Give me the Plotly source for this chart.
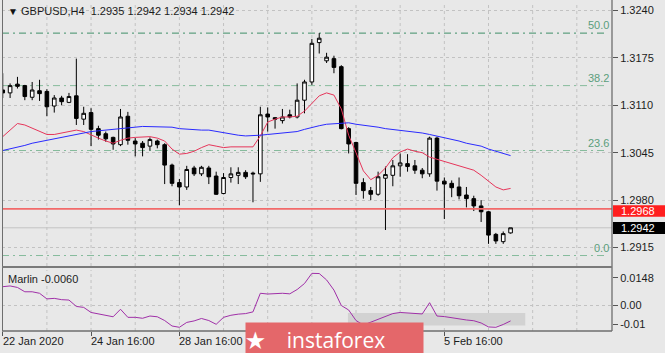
import plotly.graph_objects as go

# ---------------- data ----------------
bar_index = list(range(70))
date_labels = {0: "22 Jan 2020", 12: "24 Jan 16:00", 24: "28 Jan 16:00", 60: "5 Feb 16:00"}

open_ = [1.3131, 1.3127, 1.3139, 1.3137, 1.3121, 1.3130, 1.3129, 1.3109, 1.3120, 1.3114,
         1.3123, 1.3091, 1.3100, 1.3078, 1.3071, 1.3066, 1.3056, 1.3095, 1.3061, 1.3058,
         1.3054, 1.3061, 1.3056, 1.3028, 1.3004, 1.2998, 1.3024, 1.3016, 1.3024, 1.3013,
         1.2989, 1.3011, 1.3014, 1.3018, 1.3017, 1.3016, 1.3098, 1.3093, 1.3089, 1.3097,
         1.3094, 1.3117, 1.3142, 1.3196, 1.3171, 1.3174, 1.3163, 1.3078, 1.3059, 1.3004,
         1.2993, 1.2988, 1.3010, 1.3014, 1.3027, 1.3030, 1.3027, 1.3021, 1.3016, 1.3065,
         1.3006, 1.3003, 1.2998, 1.2987, 1.2982, 1.2972, 1.2964, 1.2933, 1.2923, 1.2935]
high = [1.3154, 1.3140, 1.3149, 1.3138, 1.3142, 1.3145, 1.3132, 1.3124, 1.3123, 1.3127,
        1.3174, 1.3108, 1.3106, 1.3082, 1.3074, 1.3067, 1.3105, 1.3101, 1.3065, 1.3061,
        1.3066, 1.3063, 1.3058, 1.3030, 1.3009, 1.3027, 1.3027, 1.3027, 1.3027, 1.3019,
        1.3017, 1.3025, 1.3025, 1.3021, 1.3019, 1.3108, 1.3107, 1.3094, 1.3105, 1.3104,
        1.3140, 1.3145, 1.3201, 1.3209, 1.3182, 1.3178, 1.3165, 1.3080, 1.3060, 1.3010,
        1.2998, 1.3019, 1.3026, 1.3035, 1.3044, 1.3043, 1.3035, 1.3024, 1.3067, 1.3067,
        1.3011, 1.3007, 1.3011, 1.2998, 1.2986, 1.2980, 1.2965, 1.2935, 1.2937, 1.2942]
low = [1.3120, 1.3120, 1.3133, 1.3117, 1.3117, 1.3116, 1.3095, 1.3100, 1.3110, 1.3113,
       1.3083, 1.3083, 1.3054, 1.3063, 1.3060, 1.3049, 1.3054, 1.3056, 1.3040, 1.3040,
       1.3048, 1.3051, 1.3002, 1.2999, 1.2973, 1.2994, 1.3013, 1.3013, 1.3002, 1.2987,
       1.2988, 1.3004, 1.3002, 1.3009, 1.2977, 1.3005, 1.3074, 1.3078, 1.3085, 1.3092,
       1.3092, 1.3099, 1.3138, 1.3181, 1.3168, 1.3154, 1.3077, 1.3044, 1.2987, 1.2982,
       1.2980, 1.2986, 1.2939, 1.2999, 1.3012, 1.3019, 1.3016, 1.3010, 1.3012, 1.2993,
       1.2954, 1.2984, 1.2981, 1.2970, 1.2965, 1.2950, 1.2920, 1.2920, 1.2920, 1.2934]
close = [1.3127, 1.3137, 1.3136, 1.3122, 1.3131, 1.3126, 1.3108, 1.3120, 1.3115, 1.3122,
         1.3092, 1.3099, 1.3077, 1.3069, 1.3064, 1.3057, 1.3094, 1.3062, 1.3057, 1.3052,
         1.3063, 1.3056, 1.3028, 1.3003, 1.2998, 1.3022, 1.3016, 1.3025, 1.3012, 1.2988,
         1.3011, 1.3016, 1.3018, 1.3012, 1.3016, 1.3097, 1.3094, 1.3091, 1.3094, 1.3094,
         1.3117, 1.3142, 1.3195, 1.3202, 1.3176, 1.3162, 1.3078, 1.3057, 1.3003, 1.2993,
         1.2988, 1.3012, 1.3015, 1.3027, 1.3031, 1.3026, 1.3021, 1.3016, 1.3065, 1.3006,
         1.3002, 1.2997, 1.2986, 1.2982, 1.2972, 1.2964, 1.2932, 1.2924, 1.2934, 1.2942]

ma_red = [1.3067, 1.3076, 1.3085, 1.3083, 1.3079, 1.3075, 1.3070, 1.3070, 1.3072, 1.3075,
          1.3076, 1.3074, 1.3069, 1.3065, 1.3061, 1.3058, 1.3062, 1.3065, 1.3066, 1.3067,
          1.3067, 1.3065, 1.3061, 1.3050, 1.3043, 1.3044, 1.3047, 1.3052, 1.3056, 1.3054,
          1.3052, 1.3053, 1.3053, 1.3053, 1.3053, 1.3068, 1.3087, 1.3091, 1.3094, 1.3094,
          1.3095, 1.3102, 1.3112, 1.3123, 1.3127, 1.3124, 1.3105, 1.3069, 1.3045, 1.3020,
          1.3008, 1.3014, 1.3024, 1.3038, 1.3046, 1.3050, 1.3047, 1.3045, 1.3039, 1.3036,
          1.3033, 1.3030, 1.3027, 1.3024, 1.3021, 1.3014, 1.3006, 1.2998, 1.2994, 1.2996]
ma_blue = [1.3048, 1.3050, 1.3053, 1.3055, 1.3058, 1.3060, 1.3062, 1.3065, 1.3067, 1.3069,
           1.3071, 1.3072, 1.3074, 1.3075, 1.3076, 1.3077, 1.3077, 1.3078, 1.3080, 1.3081,
           1.3081, 1.3080, 1.3080, 1.3080, 1.3078, 1.3077, 1.3076, 1.3076, 1.3076, 1.3074,
           1.3072, 1.3070, 1.3069, 1.3068, 1.3068, 1.3069, 1.3070, 1.3071, 1.3071, 1.3072,
           1.3074, 1.3077, 1.3080, 1.3082, 1.3084, 1.3085, 1.3086, 1.3086, 1.3084, 1.3083,
           1.3081, 1.3080, 1.3078, 1.3077, 1.3075, 1.3074, 1.3073, 1.3072, 1.3070, 1.3068,
           1.3066, 1.3064, 1.3061, 1.3058, 1.3056, 1.3054, 1.3050, 1.3047, 1.3044, 1.3041]
marlin = [0.0100, 0.0104, 0.0096, 0.0073, 0.0073, 0.0065, 0.0035, 0.0038, 0.0031, 0.0029,
          -0.0005, -0.0010, -0.0037, -0.0044, -0.0051, -0.0060, -0.0020, -0.0063, -0.0063, -0.0068,
          -0.0056, -0.0060, -0.0080, -0.0109, -0.0116, -0.0090, -0.0082, -0.0069, -0.0080, -0.0100,
          -0.0063, -0.0052, -0.0046, -0.0043, -0.0034, 0.0065, 0.0061, 0.0064, 0.0065, 0.0062,
          0.0085, 0.0117, 0.0171, 0.0170, 0.0136, 0.0082, 0.0000, -0.0024, -0.0080, -0.0104,
          -0.0088, -0.0072, -0.0056, -0.0043, -0.0037, -0.0040, -0.0043, -0.0045, 0.0015, -0.0056,
          -0.0059, -0.0066, -0.0073, -0.0077, -0.0081, -0.0093, -0.0114, -0.0116, -0.0101, -0.0082]

price_ticks = [1.3240, 1.3175, 1.3110, 1.3045, 1.2980, 1.2915]
price_tick_text = ["1.3240", "1.3175", "1.3110", "1.3045", "1.2980", "1.2915"]
ind_ticks = [0.0148, 0.0, -0.01]
ind_tick_text = ["0.0148", "0.00", "-0.01"]

fib_levels = [(0.0, 1.2904), (23.6, 1.3048), (38.2, 1.3137), (50.0, 1.3209)]
level_red = 1.2968
level_last = 1.2942
band_lo, band_hi = -0.0107, -0.0040
title_text = "GBPUSD,H4  1.2935 1.2942 1.2934 1.2942"

# ---------------- layout geometry ----------------
W, H = 665, 353
ML, MR, MT, MB = 2, 53, 0, 22
PW, PH = W - ML - MR, H - MT - MB


def fx(px):
    return (px - ML) / PW


def fy(py):
    return (H - MB - py) / PH


BAR_PX = 7.36
x_range = [-0.1, -0.1 + PW / BAR_PX]
y_range = [1.288963, 1.325166]
y2_range = [-0.013564, 0.018883]

FONT = "Liberation Sans, Arial, sans-serif"
TXT = "#1c1c1c"
BG = "#e8e8e8"

fig = go.Figure()

fig.add_trace(go.Candlestick(
    x=bar_index, open=open_, high=high, low=low, close=close,
    increasing=dict(fillcolor="#ffffff", line=dict(color="#000000", width=1)),
    decreasing=dict(fillcolor="#000000", line=dict(color="#000000", width=1)),
    whiskerwidth=0, showlegend=False, hoverinfo="skip", xaxis="x", yaxis="y"))

fig.add_trace(go.Scatter(x=bar_index, y=ma_red, mode="lines",
                         line=dict(color="#e6355a", width=1), showlegend=False,
                         hoverinfo="skip", xaxis="x", yaxis="y"))
fig.add_trace(go.Scatter(x=bar_index, y=ma_blue, mode="lines",
                         line=dict(color="#2a2aff", width=1), showlegend=False,
                         hoverinfo="skip", xaxis="x", yaxis="y"))
fig.add_trace(go.Scatter(x=bar_index, y=marlin, mode="lines",
                         line=dict(color="#a030a8", width=1), showlegend=False,
                         hoverinfo="skip", xaxis="x2", yaxis="y2"))

shapes = []
# vertical dashed grid (every 6 bars) across both panels
for g in range(6, 84, 6):
    for yr in ("y domain", "y2 domain"):
        shapes.append(dict(type="line", xref="x", yref=yr, x0=g, x1=g, y0=0, y1=1,
                           line=dict(color="#c2c2c2", width=1, dash="3px,3px"), layer="below"))
# indicator zero grid and band
shapes.append(dict(type="line", xref="x2 domain", yref="y2", x0=0, x1=1, y0=0, y1=0,
                   line=dict(color="#c2c2c2", width=1, dash="3px,3px"), layer="below"))
shapes.append(dict(type="rect", xref="x2", yref="y2", x0=46.9, x1=71, y0=band_lo, y1=band_hi,
                   fillcolor="#d2d2d2", line=dict(width=0), layer="below"))
# fibonacci levels
for pct, lv in fib_levels:
    col = "#3f8f68" if pct == 50.0 else "#86bb9c"
    shapes.append(dict(type="line", xref="x domain", yref="y", x0=0, x1=fx(607), y0=lv, y1=lv,
                       line=dict(color=col, width=1, dash="7px,4px,2px,4px"), layer="below"))
# price lines
shapes.append(dict(type="line", xref="x domain", yref="y", x0=0, x1=1, y0=level_last, y1=level_last,
                   line=dict(color="#c4c4c4", width=1), layer="below"))
shapes.append(dict(type="line", xref="x domain", yref="y", x0=0, x1=1, y0=level_red, y1=level_red,
                   line=dict(color="#f26a6a", width=1.6), layer="above"))
# frame
shapes.append(dict(type="line", xref="paper", yref="paper", x0=fx(2.5), x1=fx(2.5), y0=0, y1=1,
                   line=dict(color="#6e6e6e", width=1)))
shapes.append(dict(type="line", xref="paper", yref="paper", x0=fx(612), x1=fx(612), y0=0, y1=1,
                   line=dict(color="#6e6e6e", width=1.3)))
shapes.append(dict(type="line", xref="paper", yref="paper", x0=fx(2), x1=fx(612), y0=fy(267), y1=fy(267),
                   line=dict(color="#7a7a7a", width=2.2)))
shapes.append(dict(type="line", xref="paper", yref="paper", x0=fx(2), x1=fx(612), y0=0, y1=0,
                   line=dict(color="#6e6e6e", width=1.3)))
# price boxes at right
shapes.append(dict(type="rect", xref="paper", yref="y", x0=fx(613), x1=fx(665),
                   y0=level_red - 0.00110, y1=level_red + 0.00050,
                   fillcolor="#ff1e1e", line=dict(width=0), layer="above"))
shapes.append(dict(type="rect", xref="paper", yref="y", x0=fx(613), x1=fx(665),
                   y0=level_last - 0.00085, y1=level_last + 0.00078,
                   fillcolor="#000000", line=dict(width=0), layer="above"))

annotations = []
# title
annotations.append(dict(xref="paper", yref="paper", x=fx(5.5), y=fy(11.5), xanchor="left", yanchor="middle",
                        text="\u25bc", showarrow=False, font=dict(family=FONT, size=10, color="#111")))
annotations.append(dict(xref="paper", yref="paper", x=fx(19), y=fy(11.5), xanchor="left", yanchor="middle",
                        text=title_text.replace(" ", "&nbsp;"), showarrow=False,
                        font=dict(family=FONT, size=11, color=TXT)))
# fib labels
for pct, lv in fib_levels:
    annotations.append(dict(xref="paper", yref="y", x=fx(611), y=lv, xanchor="right", yanchor="bottom",
                            yshift=0, text=f"{pct:.1f}", showarrow=False,
                            font=dict(family=FONT, size=11, color="#5b9e7c")))
# price box labels
annotations.append(dict(xref="paper", yref="y", x=fx(620), y=level_red - 0.0003, xanchor="left",
                        yanchor="middle", text="1.2968", showarrow=False, borderpad=0,
                        font=dict(family=FONT, size=11, color="#ffffff")))
annotations.append(dict(xref="paper", yref="y", x=fx(620), y=level_last, xanchor="left",
                        yanchor="middle", text="1.2942", showarrow=False, borderpad=0,
                        font=dict(family=FONT, size=11, color="#ffffff")))
# indicator label
annotations.append(dict(xref="paper", yref="paper", x=fx(6), y=fy(278.5), xanchor="left", yanchor="middle",
                        text="Marlin -0.0060", showarrow=False, font=dict(family=FONT, size=11, color=TXT)))
# date labels
for idx, txt in date_labels.items():
    annotations.append(dict(xref="x2", yref="paper", x=idx, y=fy(333), xanchor="left", yanchor="top",
                            xshift=-2, text=txt, showarrow=False, font=dict(family=FONT, size=11, color=TXT)))
# instaforex badge
annotations.append(dict(xref="paper", yref="paper", x=fx(245), y=fy(322), xanchor="left", yanchor="top",
                        text="<b>\u2605</b>&nbsp;&nbsp;&nbsp;&nbsp;instaforex", showarrow=False, align="left",
                        width=177, height=34, bgcolor="#e4676a", borderpad=0,
                        font=dict(family="Open Sans, Liberation Sans, sans-serif", size=21, color="#ffffff")))

fig.update_layout(
    width=W, height=H,
    margin=dict(l=ML, r=MR, t=MT, b=MB),
    paper_bgcolor=BG, plot_bgcolor=BG,
    shapes=shapes, annotations=annotations,
    xaxis=dict(domain=[0, 1], range=x_range, anchor="y", showticklabels=False, showgrid=False,
               zeroline=False, rangeslider=dict(visible=False), fixedrange=True, ticks=""),
    yaxis=dict(domain=[fy(266), fy(2)], range=y_range, side="right", anchor="x",
               tickvals=price_ticks, ticktext=price_tick_text, ticks="outside", ticklen=5,
               tickcolor="#555", showgrid=True, gridcolor="#c2c2c2", griddash="3px,3px",
               zeroline=False, tickfont=dict(family=FONT, size=11, color=TXT)),
    xaxis2=dict(domain=[0, 1], range=x_range, anchor="y2", matches="x", tickvals=list(date_labels.keys()),
                ticktext=["" for _ in date_labels], ticks="outside", ticklen=4, tickcolor="#555",
                showgrid=False, zeroline=False),
    yaxis2=dict(domain=[0, fy(270)], range=y2_range, side="right", anchor="x2",
                tickvals=ind_ticks, ticktext=ind_tick_text, ticks="outside", ticklen=5,
                tickcolor="#555", showgrid=False, zeroline=False,
                tickfont=dict(family=FONT, size=11, color=TXT)),
)

fig.write_html("out.html")
